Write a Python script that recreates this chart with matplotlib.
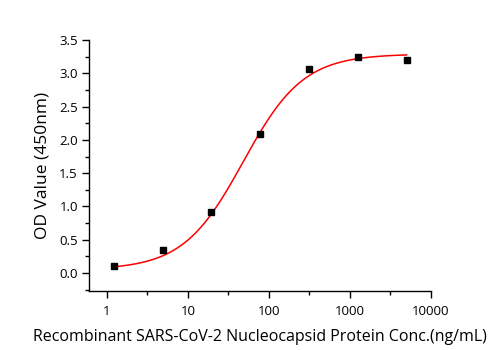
import matplotlib
matplotlib.use('Agg')
import matplotlib.pyplot as plt
import matplotlib.ticker as mticker
import numpy as np

plt.rcParams['font.family'] = ['Open Sans', 'DejaVu Sans']

# measured points (ng/mL vs OD450)
conc = [1.22, 4.88, 19.5, 78.1, 312.5, 1250, 5000]
od = [0.11, 0.34, 0.92, 2.09, 3.07, 3.25, 3.20]

# 4PL fit parameters
fit_bottom = 0.05
fit_top = 3.29
fit_ec50 = 48.0
fit_hill = 1.17

xticks = [1, 10, 100, 1000, 10000]
xtick_labels = ['1', '10', '100', '1000', '10000']
yticks = [0.0, 0.5, 1.0, 1.5, 2.0, 2.5, 3.0, 3.5]

xs = np.logspace(np.log10(conc[0]), np.log10(conc[-1]), 300)
ys = fit_bottom + (fit_top - fit_bottom) / (1.0 + (fit_ec50 / xs)**fit_hill)

fig = plt.figure(figsize=(5.01, 3.5), dpi=100)
ax = fig.add_axes([89/501, 59/350, (431-89)/501, (291-40)/350])

ax.plot(xs, ys, color='red', linewidth=1.1, zorder=2)
ax.plot(conc, od, 's', color='black', markersize=4.5, zorder=3)

ax.set_xscale('log')
ax.set_xlim(0.6, 10000)
ax.set_ylim(-0.27, 3.5)
ax.set_xticks(xticks)
ax.set_xticklabels(xtick_labels)
ax.xaxis.set_minor_locator(mticker.FixedLocator([10**(k + 0.5) for k in range(4)]))
ax.xaxis.set_minor_formatter(mticker.NullFormatter())
ax.set_yticks(yticks)
ax.yaxis.set_major_formatter(mticker.FormatStrFormatter('%.1f'))
ax.yaxis.set_minor_locator(mticker.MultipleLocator(0.25))

for s in ['top', 'right']:
    ax.spines[s].set_visible(False)
for s in ['left', 'bottom']:
    ax.spines[s].set_linewidth(1.0)

ax.tick_params(which='major', direction='out', length=5, width=1, labelsize=9.5)
ax.tick_params(axis='x', which='major', pad=5)
ax.tick_params(axis='y', which='major', pad=3)
ax.tick_params(which='minor', direction='out', length=3, width=1)

ax.set_ylabel('OD Value (450nm)', fontsize=12.5, labelpad=6)
ax.set_xlabel('Recombinant SARS-CoV-2 Nucleocapsid Protein Conc.(ng/mL)', fontsize=11.5, labelpad=8)

fig.savefig('out.png', dpi=100)
